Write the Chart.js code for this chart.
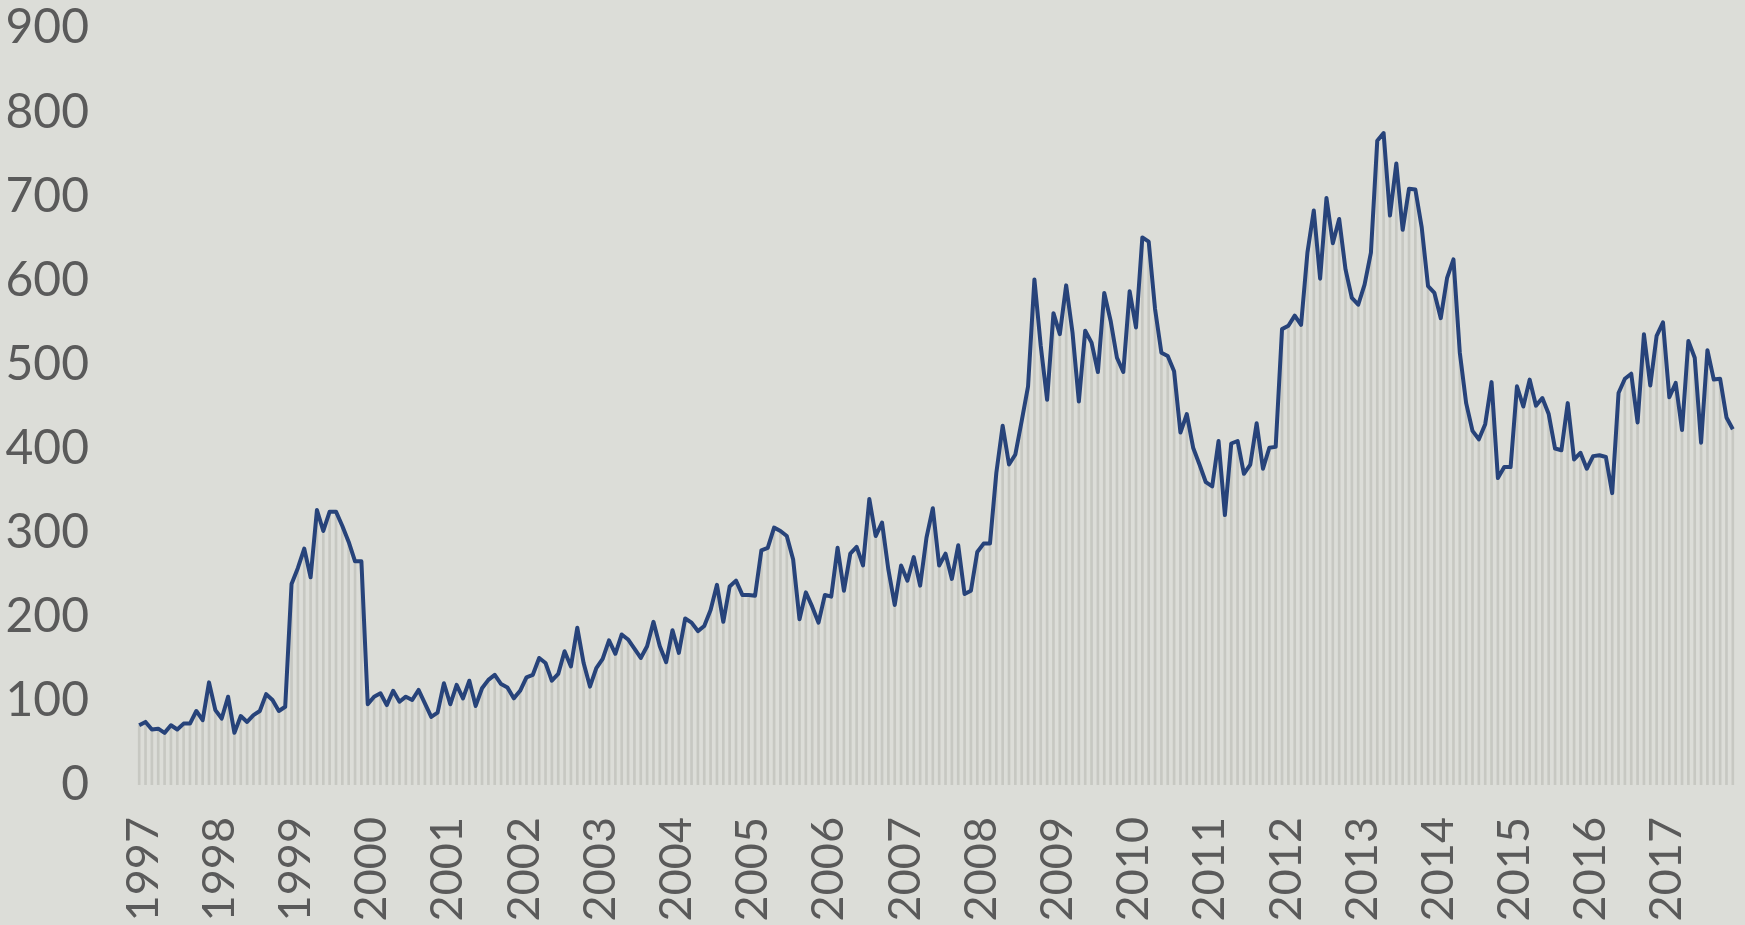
<!DOCTYPE html>
<html>
<head>
<meta charset="utf-8">
<script src="https://cdn.jsdelivr.net/npm/chart.js@4/dist/chart.umd.min.js"></script>
<style>
  html, body { margin: 0; padding: 0; background: #dcddd8; }
  #chart { width: 1745px; height: 925px; }
</style>
</head>
<body>
<div id="chart"><canvas id="miCanva" width="1745" height="925"></canvas></div>
<script>
// monthly values, Jan 1997 - Dec 2017
const years = [1997, 1998, 1999, 2000, 2001, 2002, 2003, 2004, 2005, 2006, 2007,
  2008, 2009, 2010, 2011, 2012, 2013, 2014, 2015, 2016, 2017];
const months = ["01", "02", "03", "04", "05", "06", "07", "08", "09", "10", "11", "12"];

const v1997 = [71, 75, 66, 67, 62, 71, 66, 73, 73, 88, 77, 122];
const v1998 = [89, 79, 105, 62, 82, 75, 83, 88, 108, 101, 88, 93];
const v1999 = [239, 258, 281, 247, 327, 302, 325, 325, 308, 289, 266, 266];
const v2000 = [96, 105, 109, 95, 112, 99, 105, 101, 113, 97, 81, 86];
const v2001 = [121, 96, 119, 103, 124, 94, 115, 125, 131, 120, 116, 103];
const v2002 = [112, 128, 131, 151, 145, 124, 132, 159, 141, 187, 145, 117];
const v2003 = [139, 150, 172, 156, 179, 173, 162, 151, 165, 194, 165, 146];
const v2004 = [184, 157, 198, 193, 183, 189, 208, 238, 194, 236, 243, 226];
const v2005 = [226, 225, 279, 282, 306, 302, 296, 268, 197, 229, 212, 193];
const v2006 = [226, 224, 282, 231, 275, 283, 261, 340, 296, 312, 256, 214];
const v2007 = [261, 243, 271, 237, 294, 329, 261, 275, 245, 285, 227, 231];
const v2008 = [277, 287, 287, 371, 427, 381, 393, 433, 474, 601, 522, 458];
const v2009 = [561, 536, 594, 538, 456, 540, 526, 491, 585, 552, 508, 491];
const v2010 = [587, 544, 651, 646, 566, 514, 510, 492, 419, 441, 401, 381];
const v2011 = [360, 355, 409, 321, 406, 409, 370, 381, 430, 376, 401, 402];
const v2012 = [542, 546, 558, 547, 633, 683, 602, 698, 644, 673, 613, 579];
const v2013 = [571, 595, 633, 766, 775, 677, 739, 660, 709, 708, 663, 593];
const v2014 = [585, 555, 603, 625, 514, 454, 421, 411, 429, 479, 365, 378];
const v2015 = [378, 474, 450, 482, 451, 460, 441, 400, 398, 454, 387, 395];
const v2016 = [376, 391, 392, 390, 347, 466, 483, 489, 431, 536, 475, 534];
const v2017 = [550, 461, 478, 422, 528, 508, 407, 517, 482, 483, 437, 423];

const yTicks = [0, 100, 200, 300, 400, 500, 600, 700, 800, 900];

const values = [].concat(v1997, v1998, v1999, v2000, v2001, v2002, v2003, v2004,
  v2005, v2006, v2007, v2008, v2009, v2010, v2011, v2012, v2013, v2014, v2015,
  v2016, v2017);
const labels = years.flatMap(y => months.map(m => y + "-" + m));

const bgPlugin = {
  id: "bg",
  beforeDraw(chart) {
    const c = chart.ctx;
    c.save();
    c.fillStyle = "#dcddd8";
    c.fillRect(0, 0, chart.width, chart.height);
    c.restore();
  }
};

const textColor = "#5a5a5a";
const fontFamily = "Lato, 'Liberation Sans', sans-serif";

const ctx = document.getElementById("miCanva").getContext("2d");
new Chart(ctx, {
  type: "bar",
  data: {
    labels: labels,
    datasets: [
      {
        type: "line",
        data: values,
        borderColor: "#27437a",
        borderWidth: 4,
        borderJoinStyle: "round",
        pointRadius: 0,
        tension: 0,
        order: 0,
      },
      {
        type: "bar",
        data: values,
        backgroundColor: "#c7c8c2",
        barThickness: 2,
        order: 1,
      },
    ],
  },
  options: {
    responsive: false,
    animation: false,
    layout: { padding: { top: 28, right: 9, left: 0, bottom: 0 } },
    plugins: {
      legend: { display: false },
      tooltip: { enabled: false },
    },
    scales: {
      x: {
        offset: true,
        grid: { display: false, drawTicks: false },
        border: { display: false },
        ticks: {
          autoSkip: false,
          minRotation: 90,
          maxRotation: 90,
          padding: 32,
          labelOffset: 4,
          color: textColor,
          font: { family: fontFamily, size: 45 },
          callback: function (val, idx) {
            const lab = this.getLabelForValue(val);
            return lab.endsWith("-01") ? lab.slice(0, 4) : null;
          },
        },
        afterFit: (s) => {
          s.height = 140;
          s.paddingLeft = 0;
          s.paddingRight = 0;
        },
      },
      y: {
        min: 0,
        max: 900,
        grid: { display: false, drawTicks: false },
        border: { display: false },
        afterBuildTicks: (s) => { s.ticks = yTicks.map(v => ({ value: v })); },
        ticks: {
          padding: 47,
          color: textColor,
          font: { family: fontFamily, size: 48 },
        },
        afterFit: (s) => {
          s.width = 136;
          s.paddingTop = 0;
          s.paddingBottom = 0;
        },
      },
    },
  },
  plugins: [bgPlugin],
});
</script>
</body>
</html>
